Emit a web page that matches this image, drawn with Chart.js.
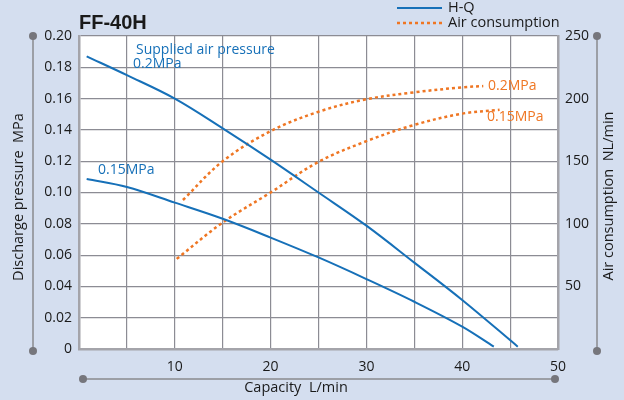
<!DOCTYPE html>
<html>
<head>
<meta charset="utf-8">
<script src="https://cdn.jsdelivr.net/npm/chart.js@4"></script>
<style>
  html, body { margin: 0; padding: 0; background: #d4deef; }
  canvas { display: block; }
</style>
</head>
<body>
<canvas id="graph" width="624" height="400"></canvas>
<script>
const hq02x = [0.8, 5, 10, 15, 20, 25, 30, 35, 40, 45.8];
const hq02y = [0.187, 0.175, 0.160, 0.141, 0.121, 0.100, 0.0788, 0.0552, 0.0313, 0.0015];
const hq015x = [0.8, 5, 10, 15, 20, 25, 30, 35, 40, 43.3];
const hq015y = [0.1086, 0.1035, 0.0935, 0.0832, 0.0712, 0.0585, 0.0447, 0.0302, 0.0143, 0.0015];
const air02x = [10.85, 15, 20, 25, 30, 35, 40, 42.2];
const air02y = [119, 150, 174, 189.5, 199.5, 205, 209, 210];
const air015x = [10.2, 15, 20, 25, 30, 35, 40, 43.9];
const air015y = [72, 101, 125, 149.5, 166, 179, 188, 191];
const ticksPression = [0, 0.02, 0.04, 0.06, 0.08, 0.10, 0.12, 0.14, 0.16, 0.18, 0.20];
const ticksAir = [50, 100, 150, 200, 250];
const ticksCapacite = [10, 20, 30, 40, 50];

const BLEU = "#1670b8";
const ORANGE = "#ef7623";
const GRIS = "#76767c";
const POLICE = "'Open Sans', sans-serif";

const points = (xs, ys) => xs.map((x, i) => ({ x: x, y: ys[i] }));

// décorations : axes avec points, titres, annotations, légende
const decor = {
  id: "decor",
  afterDraw(chart) {
    const ctx = chart.ctx;
    const a = chart.chartArea;
    ctx.save();

    function ligneAxe(x1, y1, x2, y2) {
      ctx.strokeStyle = "#8a8a8e";
      ctx.lineWidth = 1.5;
      ctx.beginPath();
      ctx.moveTo(x1, y1);
      ctx.lineTo(x2, y2);
      ctx.stroke();
      ctx.fillStyle = GRIS;
      [[x1, y1], [x2, y2]].forEach(p => {
        ctx.beginPath();
        ctx.arc(p[0], p[1], 4, 0, Math.PI * 2);
        ctx.fill();
      });
    }
    ligneAxe(33, a.top, 33, a.bottom + 2);
    ligneAxe(597, a.top, 597, a.bottom + 2);
    ligneAxe(83, 379, 555, 379);

    ctx.fillStyle = "#1a1a1a";
    ctx.font = "14.5px " + POLICE;
    ctx.textAlign = "center";
    ctx.textBaseline = "middle";
    ctx.fillText("Capacity  L/min", 296, 388);

    ctx.save();
    ctx.translate(19, 197);
    ctx.rotate(-Math.PI / 2);
    ctx.fillText("Discharge pressure  MPa", 0, 0);
    ctx.restore();

    ctx.save();
    ctx.translate(609, 196);
    ctx.rotate(-Math.PI / 2);
    ctx.fillText("Air consumption  NL/min", 0, 0);
    ctx.restore();

    // titre
    ctx.textAlign = "left";
    ctx.textBaseline = "alphabetic";
    ctx.font = "bold 20px 'Liberation Sans', sans-serif";
    ctx.fillText("FF-40H", 79, 29);

    // légende
    ctx.font = "14.5px " + POLICE;
    ctx.textBaseline = "middle";
    ctx.strokeStyle = BLEU;
    ctx.lineWidth = 2;
    ctx.beginPath();
    ctx.moveTo(397, 8);
    ctx.lineTo(442, 8);
    ctx.stroke();
    ctx.fillText("H-Q", 448, 8);
    ctx.strokeStyle = ORANGE;
    ctx.lineWidth = 2.5;
    ctx.setLineDash([3, 3]);
    ctx.beginPath();
    ctx.moveTo(397, 23);
    ctx.lineTo(442, 23);
    ctx.stroke();
    ctx.setLineDash([]);
    ctx.fillText("Air consumption", 448, 23);

    // annotations
    ctx.font = "14px " + POLICE;
    ctx.fillStyle = BLEU;
    ctx.fillText("Supplied air pressure", 136, 50);
    ctx.fillText("0.2MPa", 133, 64);
    ctx.fillText("0.15MPa", 98, 170);
    ctx.fillStyle = ORANGE;
    ctx.fillText("0.2MPa", 488, 86);
    ctx.fillText("0.15MPa", 487, 117);

    ctx.restore();
  }
};

const fondBlanc = {
  id: "fondBlanc",
  beforeDraw(chart) {
    const a = chart.chartArea;
    chart.ctx.save();
    chart.ctx.fillStyle = "#ffffff";
    chart.ctx.fillRect(a.left, a.top, a.right - a.left, a.bottom - a.top);
    chart.ctx.restore();
  }
};

const courbe = (data, couleur, axe, pointille) => ({
  data: data,
  yAxisID: axe,
  borderColor: couleur,
  borderWidth: pointille ? 2.5 : 2,
  borderDash: pointille ? [3, 3] : [],
  pointRadius: 0,
  fill: false,
  tension: 0.35
});

new Chart(document.getElementById("graph"), {
  type: "line",
  data: {
    datasets: [
      courbe(points(hq02x, hq02y), BLEU, "y", false),
      courbe(points(hq015x, hq015y), BLEU, "y", false),
      courbe(points(air02x, air02y), ORANGE, "y2", true),
      courbe(points(air015x, air015y), ORANGE, "y2", true)
    ]
  },
  options: {
    responsive: false,
    animation: false,
    layout: { padding: { top: 36, left: 0, right: 0, bottom: 0 } },
    plugins: { legend: { display: false }, tooltip: { enabled: false } },
    scales: {
      x: {
        type: "linear",
        min: 0,
        max: 50,
        afterFit: s => { s.height = 51; },
        ticks: {
          stepSize: 5,
          padding: 10,
          color: "#1a1a1a",
          font: { family: "'Open Sans', sans-serif", size: 14 },
          maxRotation: 0,
          callback: v => ticksCapacite.includes(v) ? String(v) : ""
        },
        grid: { color: "#8c8c94", lineWidth: 1.2, drawTicks: false },
        border: { color: "#a4a4aa", width: 2.5 }
      },
      y: {
        position: "left",
        min: 0,
        max: 0.2,
        afterFit: s => { s.width = 79; },
        afterBuildTicks: s => { s.ticks = ticksPression.map(v => ({ value: v })); },
        ticks: {
          padding: 7,
          color: "#1a1a1a",
          font: { family: "'Open Sans', sans-serif", size: 14 },
          callback: v => v === 0 ? "0" : v.toFixed(2)
        },
        grid: { color: "#8c8c94", lineWidth: 1.2, drawTicks: false },
        border: { color: "#a4a4aa", width: 2.5 }
      },
      y2: {
        position: "right",
        min: 0,
        max: 250,
        afterFit: s => { s.width = 66; },
        afterBuildTicks: s => { s.ticks = ticksAir.map(v => ({ value: v })); },
        ticks: {
          padding: 7,
          color: "#1a1a1a",
          font: { family: "'Open Sans', sans-serif", size: 14 }
        },
        grid: { display: false, drawTicks: false },
        border: { color: "#a4a4aa", width: 2.5 }
      }
    }
  },
  plugins: [fondBlanc, decor]
});
</script>
</body>
</html>
